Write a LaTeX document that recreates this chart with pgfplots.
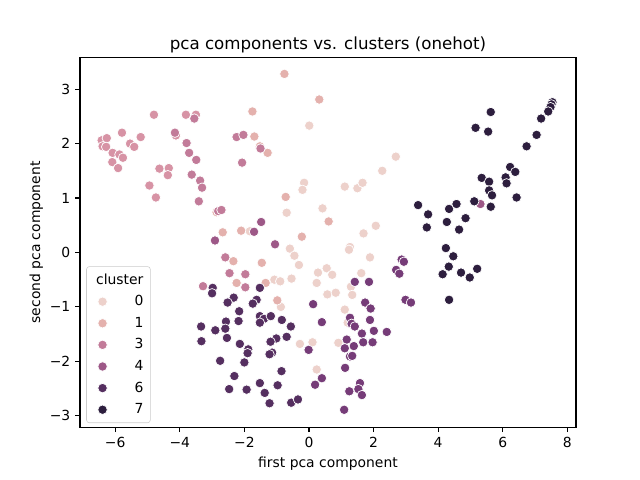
\documentclass[border=0pt]{standalone}
\usepackage{pgfplots}
\pgfplotsset{compat=1.18}
\usepackage{fontspec}
\setmainfont{DejaVu Sans}
\definecolor{c0}{HTML}{EDD1CB}
\definecolor{c1}{HTML}{E4B1AD}
\definecolor{c2}{HTML}{D793A5}
\definecolor{c3}{HTML}{C27B99}
\definecolor{c4}{HTML}{9D5887}
\definecolor{c5}{HTML}{763C78}
\definecolor{c6}{HTML}{552F60}
\definecolor{c7}{HTML}{2D1E3E}
\pgfplotsset{
  pt/.style={only marks, mark=*, mark size=3.4pt, #1, mark options={fill=#1, draw=white, line width=0.5pt, fill opacity=1, draw opacity=1}},
}
\begin{document}
\begin{tikzpicture}
\path[use as bounding box] (-57.6pt,-38.02pt) rectangle (403.2pt,307.58pt);
\begin{axis}[
  at={(0,0)}, anchor=south west,
  scale only axis, width=357.12pt, height=266.11pt,
  xmin=-7.09, xmax=8.27, ymin=-3.21, ymax=3.58,
  xtick={-6,-4,-2,0,2,4,6,8},
  xticklabels={−6,−4,−2,0,2,4,6,8},
  ytick={-3,-2,-1,0,1,2,3},
  yticklabels={−3,−2,−1,0,1,2,3},
  tick align=outside, major tick length=3.5pt,
  xtick pos=bottom, ytick pos=left,
  axis line style={line width=0.8pt},
  every tick/.style={black, line width=0.8pt},
  tick label style={font=\fontsize{10}{12}\selectfont},
  xlabel={first pca component}, ylabel={second pca component},
  label style={font=\fontsize{10}{12}\selectfont},
  ylabel style={yshift=-2pt},
  title={pca components vs. clusters (onehot)},
  title style={font=\fontsize{12}{14}\selectfont, yshift=-6pt},
  legend style={at={(axis description cs:0,0)}, anchor=south west, xshift=4.5pt, yshift=3pt,
    draw=black!20, rounded corners=2pt, fill=white, fill opacity=0.8, draw opacity=1, text opacity=1,
    font=\fontsize{10}{12}\selectfont, row sep=2.7pt, inner xsep=3pt, inner ysep=3pt},
  legend cell align=right,
]
\addplot[forget plot, pt=c0] coordinates {
(0.01,2.33)(-0.15,1.28)(-0.20,1.15)(-0.69,0.73)(0.42,0.81)(-1.83,0.39)(-0.59,0.07)
(2.69,1.76)(2.27,1.50)(1.11,1.21)(1.50,1.18)(1.66,1.28)(2.07,0.49)(1.69,0.35)(1.27,0.10)
(-0.45,-0.06)(-0.31,-0.23)(-1.07,-0.50)(-0.89,-0.53)(-0.54,-0.48)(0.28,-0.37)(0.55,-0.29)
(0.24,-0.56)(0.57,-0.77)(-0.87,-1.00)(-0.28,-1.68)(0.11,-1.65)(0.24,-2.15)(1.24,0.05)
(1.89,-0.09)(0.72,-0.41)(0.83,-0.74)(1.62,-0.38)(1.30,-0.63)(1.34,-0.78)(1.11,-1.05)
(1.20,-1.29)(0.91,-1.66)
};
\addplot[forget plot, pt=c1] coordinates {
(-0.76,3.28)(0.32,2.81)(-1.75,2.59)(-1.69,2.13)(-1.52,1.95)(-1.28,1.83)(-0.72,1.02)
(0.61,0.57)(-2.86,0.74)(-2.67,0.37)(-2.10,0.40)(-0.22,0.29)(-2.34,-0.16)(-1.46,-0.19)
(-2.24,-0.56)(-1.34,-0.56)(-0.98,-0.88)
};
\addplot[forget plot, pt=c2] coordinates {
(-4.80,2.53)(-3.81,2.53)(-3.50,2.53)(-6.42,2.06)(-6.26,2.10)(-6.39,1.95)(-6.28,1.94)
(-5.79,2.20)(-5.54,2.00)(-5.41,1.94)(-5.21,2.12)(-6.08,1.83)(-5.87,1.80)(-5.76,1.74)
(-6.09,1.66)(-5.91,1.55)(-4.12,2.15)(-4.63,1.54)(-4.34,1.55)(-4.37,1.42)(-4.94,1.23)
(-4.74,1.01)
};
\addplot[forget plot, pt=c3] coordinates {
(-3.55,2.46)(-4.15,2.20)(-3.79,2.01)(-3.71,1.83)(-3.49,1.70)(-3.63,1.43)(-3.37,1.32)
(-3.31,1.19)(-3.41,0.94)(-2.24,2.12)(-2.03,2.16)(-1.50,1.91)(-2.07,1.65)(-2.81,0.76)
(-2.71,0.78)(-2.59,-0.09)(-2.46,-0.38)(-1.97,-0.40)(-1.97,-0.64)(-3.28,-0.62)
};
\addplot[forget plot, pt=c4] coordinates {
(-1.48,0.56)(-1.70,0.38)(-2.91,0.22)(-1.05,0.15)(5.31,0.89)
};
\addplot[forget plot, pt=c5] coordinates {
(0.13,-0.95)(0.40,-1.28)(-0.01,-1.79)(0.40,-2.31)(0.19,-2.43)(1.42,-0.54)(1.86,-0.54)
(2.87,-0.13)(2.94,-0.17)(2.70,-0.32)(2.80,-0.39)(2.99,-0.87)(3.16,-0.92)(1.74,-0.92)
(1.91,-1.03)(1.27,-1.20)(1.32,-1.31)(1.42,-1.36)(1.89,-1.24)(1.64,-1.49)(2.01,-1.44)
(2.41,-1.46)(1.17,-1.60)(1.68,-1.65)(1.97,-1.65)(1.39,-1.72)(1.11,-1.76)(1.27,-1.91)
(1.34,-1.90)(1.12,-2.12)(1.58,-2.40)(1.53,-2.51)(1.64,-2.62)(1.25,-2.55)(1.09,-2.89)
};
\addplot[forget plot, pt=c6] coordinates {
(-2.98,-0.65)(-3.00,-0.75)(-1.52,-0.65)(-2.33,-0.83)(-2.52,-0.92)(-1.62,-0.87)(-1.74,-0.94)
(-2.16,-1.08)(-1.52,-1.17)(-1.39,-1.22)(-1.18,-1.17)(-1.52,-1.29)(-2.57,-1.27)(-2.18,-1.26)
(-0.84,-1.24)(-3.34,-1.36)(-2.90,-1.43)(-2.59,-1.40)(-0.56,-1.36)(-2.54,-1.57)(-3.33,-1.63)
(-2.14,-1.68)(-1.01,-1.58)(-1.19,-1.64)(-0.69,-1.55)(-1.88,-1.78)(-1.90,-1.85)(-1.14,-1.84)
(-1.22,-1.87)(-2.75,-1.99)(-2.00,-2.02)(-0.85,-2.18)(-2.31,-2.27)(-1.52,-2.40)(-0.97,-2.44)
(-2.47,-2.51)(-1.93,-2.52)(-1.37,-2.58)(-1.22,-2.77)(-0.55,-2.76)(-0.34,-2.70)
};
\addplot[forget plot, pt=c7] coordinates {
(5.63,2.58)(5.16,2.29)(5.55,2.22)(7.54,2.76)(7.51,2.72)(7.48,2.67)(7.41,2.59)(7.19,2.46)
(7.05,2.16)(6.74,1.95)(6.23,1.57)(6.39,1.48)(6.09,1.38)(6.12,1.27)(5.35,1.37)(5.58,1.30)
(5.58,1.14)(5.67,1.05)(6.43,1.01)(3.38,0.87)(3.69,0.70)(3.65,0.46)(4.34,0.80)(4.57,0.89)
(4.27,0.56)(4.85,0.63)(4.65,0.42)(5.12,0.94)(5.63,0.84)(4.24,0.08)(4.47,-0.07)(4.33,-0.26)
(4.14,-0.40)(4.71,-0.37)(4.98,-0.46)(5.21,-0.30)(4.34,-0.87)
};
\addlegendimage{empty legend}\addlegendentry{\hspace{-10pt}cluster}
\addlegendimage{pt=c0}\addlegendentry{0}
\addlegendimage{pt=c1}\addlegendentry{1}
\addlegendimage{pt=c3}\addlegendentry{3}
\addlegendimage{pt=c4}\addlegendentry{4}
\addlegendimage{pt=c6}\addlegendentry{6}
\addlegendimage{pt=c7}\addlegendentry{7}
\end{axis}
\end{tikzpicture}
\end{document}
